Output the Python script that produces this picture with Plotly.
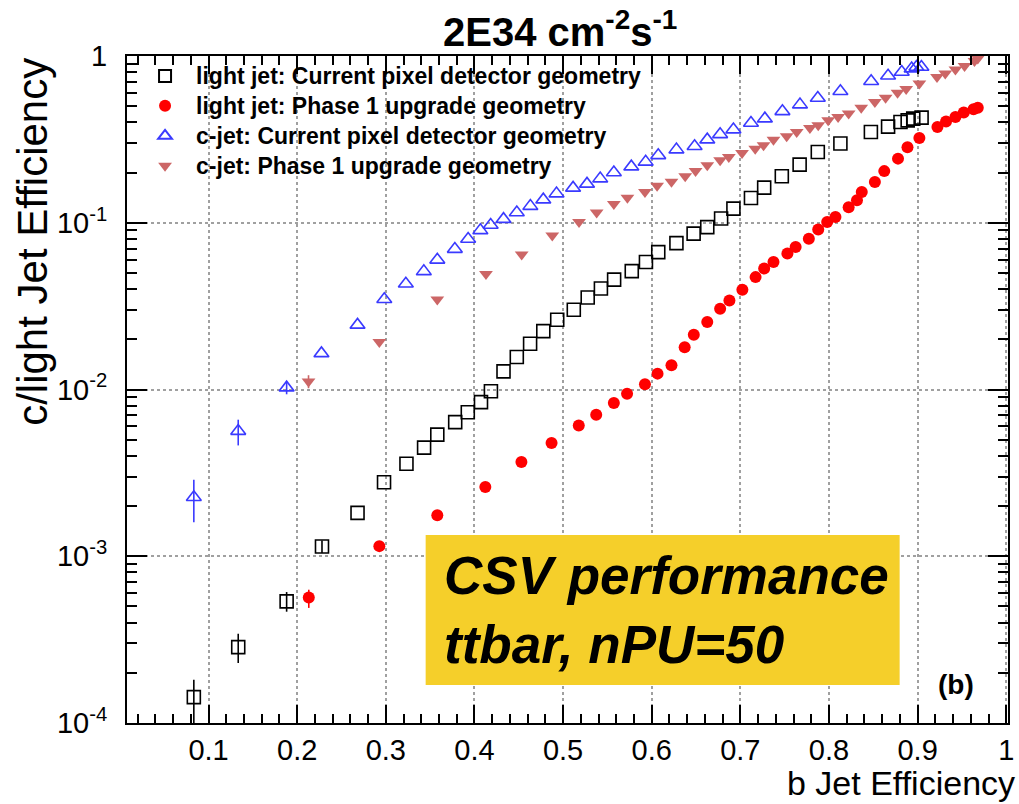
import plotly.graph_objects as go

# ---- data: mistag efficiency vs b-jet efficiency (CSV tagger, ttbar, nPU=50) ----

# light jets, current pixel detector geometry
b_light_cur = [0.0834, 0.1335, 0.1881, 0.2280, 0.2681, 0.2980, 0.3233, 0.3432, 0.3581, 0.3783,
               0.3925, 0.4074, 0.4186, 0.4328, 0.4478, 0.4628, 0.4777, 0.4934, 0.5121, 0.5278,
               0.5427, 0.5576, 0.5775, 0.5935, 0.6074, 0.6279, 0.6473, 0.6627, 0.6783, 0.6922,
               0.7120, 0.7269, 0.7468, 0.7669, 0.7874, 0.8129, 0.8473, 0.8667, 0.8807, 0.8888,
               0.8951, 0.9045]
eff_light_cur = [1.43e-4, 2.85e-4, 5.36e-4, 1.145e-3, 1.82e-3, 2.78e-3, 3.59e-3, 4.48e-3, 5.36e-3, 6.37e-3,
                 7.31e-3, 8.4e-3, 9.77e-3, 1.285e-2, 1.565e-2, 1.88e-2, 2.24e-2, 2.62e-2, 3.01e-2, 3.56e-2,
                 4.03e-2, 4.56e-2, 5.13e-2, 5.82e-2, 6.67e-2, 7.55e-2, 8.61e-2, 9.42e-2, 0.106, 0.1216,
                 0.1407, 0.1625, 0.190, 0.223, 0.2655, 0.2985, 0.350, 0.377, 0.402, 0.411,
                 0.421, 0.427]
err_up_light_cur = [0.39e-4, 0.58e-4, 0.74e-4, 0.10e-3]
err_dn_light_cur = [0.43e-4, 0.56e-4, 0.71e-4, 0.10e-3]

# light jets, Phase 1 upgrade geometry
b_light_ph1 = [0.2131, 0.2927, 0.3581, 0.4123, 0.4530, 0.4870, 0.5177, 0.5374, 0.5573, 0.5722,
               0.5924, 0.6066, 0.6223, 0.6372, 0.6475, 0.6627, 0.6772, 0.6877, 0.7023, 0.7172,
               0.7269, 0.7374, 0.7531, 0.7624, 0.7773, 0.7879, 0.7980, 0.8073, 0.8222, 0.8316,
               0.8370, 0.8518, 0.8624, 0.8779, 0.8886, 0.9020, 0.9224, 0.9321, 0.9427, 0.9521,
               0.9631, 0.9679]
eff_light_ph1 = [5.66e-4, 1.15e-3, 1.76e-3, 2.60e-3, 3.67e-3, 4.77e-3, 6.09e-3, 7.06e-3, 8.29e-3, 9.44e-3,
                 1.074e-2, 1.245e-2, 1.396e-2, 1.79e-2, 2.13e-2, 2.54e-2, 3.05e-2, 3.42e-2, 3.96e-2, 4.72e-2,
                 5.31e-2, 5.81e-2, 6.53e-2, 7.15e-2, 8.03e-2, 9.10e-2, 0.1009, 0.1082, 0.1237, 0.1363,
                 0.1528, 0.1754, 0.204, 0.2424, 0.2833, 0.3218, 0.375, 0.4046, 0.4306, 0.458,
                 0.480, 0.490]
err_up_light_ph1 = [0.64e-4, 0.08e-3]
err_dn_light_ph1 = [0.76e-4, 0.08e-3]

# c jets, current pixel detector geometry
b_c_cur = [0.0834, 0.1335, 0.1881, 0.2274, 0.2681, 0.2983, 0.3226, 0.3429, 0.3581, 0.3779,
           0.3929, 0.4067, 0.4183, 0.4328, 0.4478, 0.4631, 0.4777, 0.4926, 0.5113, 0.5270,
           0.5419, 0.5573, 0.5770, 0.5932, 0.6074, 0.6279, 0.6484, 0.6627, 0.6772, 0.6922,
           0.7120, 0.7277, 0.7475, 0.7673, 0.7874, 0.8129, 0.8476, 0.8667, 0.8821, 0.8933,
           0.8987, 0.9043]
eff_c_cur = [2.26e-3, 5.63e-3, 1.026e-2, 1.646e-2, 2.44e-2, 3.48e-2, 4.31e-2, 5.11e-2, 5.99e-2, 6.95e-2,
             7.99e-2, 9.0e-2, 9.69e-2, 0.1051, 0.1152, 0.1258, 0.1376, 0.1495, 0.1618, 0.171,
             0.1839, 0.200, 0.217, 0.2318, 0.2536, 0.2745, 0.2873, 0.315, 0.339, 0.362,
             0.3966, 0.421, 0.4658, 0.511, 0.560, 0.614, 0.705, 0.7606, 0.802, 0.840,
             0.859, 0.859]
err_up_c_cur = [0.62e-3, 0.96e-3, 0.9e-3]
err_dn_c_cur = [0.66e-3, 1.01e-3, 0.9e-3]

# c jets, Phase 1 upgrade geometry
b_c_ph1 = [0.2128, 0.2927, 0.3581, 0.4130, 0.4533, 0.4878, 0.5180, 0.5379, 0.5573, 0.5726,
           0.5924, 0.6061, 0.6223, 0.6378, 0.6495, 0.6627, 0.6772, 0.6870, 0.7019, 0.7168,
           0.7262, 0.7374, 0.7523, 0.7636, 0.7785, 0.7879, 0.7991, 0.8103, 0.8222, 0.8364,
           0.8518, 0.8639, 0.8774, 0.8871, 0.9020, 0.9219, 0.9312, 0.9427, 0.9530, 0.9642,
           0.9679]
eff_c_ph1 = [1.118e-2, 1.924e-2, 3.47e-2, 4.92e-2, 6.45e-2, 8.40e-2, 0.1010, 0.1151, 0.1295, 0.1414,
             0.1528, 0.1665, 0.1764, 0.1898, 0.2042, 0.2210, 0.2367, 0.2478, 0.2619, 0.2782,
             0.2912, 0.3150, 0.3297, 0.3500, 0.3699, 0.3840, 0.4114, 0.4306, 0.4513, 0.4891,
             0.5298, 0.5614, 0.6016, 0.6330, 0.6830, 0.748, 0.784, 0.830, 0.870, 0.932,
             0.965]
err_up_c_ph1 = [1.0e-3]
err_dn_c_ph1 = [1.0e-3]

y_tickvals = [1e-4, 1e-3, 1e-2, 1e-1, 1]
y_ticktext = ["10<sup>-4</sup>", "10<sup>-3</sup>", "10<sup>-2</sup>", "10<sup>-1</sup>", "1"]
x_tickvals = [0.1, 0.2, 0.3, 0.4, 0.5, 0.6, 0.7, 0.8, 0.9, 1.0]
x_ticktext = ["0.1", "0.2", "0.3", "0.4", "0.5", "0.6", "0.7", "0.8", "0.9", "1"]

series_names = [
    "light jet: Current pixel detector geometry",
    "light jet: Phase 1 upgrade geometry",
    "c-jet: Current pixel detector geometry",
    "c-jet: Phase 1 upgrade geometry",
]

# minor ticks of the log axis at 2..9 x 10^n
y_minor_vals = [k * 10.0 ** d for d in range(-4, 0) for k in range(2, 10)]


def padded(vals, n):
    return list(vals) + [0.0] * (n - len(vals))


FONT = "Liberation Sans, Arial, Helvetica, sans-serif"

fig = go.Figure()

styles = [
    dict(symbol="square-open", color="#000000", size=13, line=dict(width=1.6, color="#000000")),
    dict(symbol="circle", color="#ff0000", size=12, line=dict(width=0)),
    dict(symbol="triangle-up-open", color="#3a3aff", size=13, line=dict(width=1.6, color="#3a3aff")),
    dict(symbol="triangle-down", color="#cc6666", size=12, line=dict(width=0)),
]
series = [
    (b_light_cur, eff_light_cur, err_up_light_cur, err_dn_light_cur),
    (b_light_ph1, eff_light_ph1, err_up_light_ph1, err_dn_light_ph1),
    (b_c_cur, eff_c_cur, err_up_c_cur, err_dn_c_cur),
    (b_c_ph1, eff_c_ph1, err_up_c_ph1, err_dn_c_ph1),
]

for name, style, (xs, ys, eu, ed) in zip(series_names, styles, series):
    n = len(xs)
    fig.add_trace(go.Scatter(
        x=xs, y=ys, mode="markers",
        name=f'<span style="font-size:23px">{name}</span>',
        marker=dict(symbol=style["symbol"], color=style["color"], size=style["size"],
                    line=style["line"]),
        error_y=dict(type="data", symmetric=False, array=padded(eu, n), arrayminus=padded(ed, n),
                     color=style["color"], thickness=1.6, width=0),
    ))

grid = dict(showgrid=True, gridcolor="#a0a0a0", gridwidth=1.5, griddash="dot")

fig.update_layout(
    width=1019, height=804,
    margin=dict(l=127, r=5, t=56, b=81),
    paper_bgcolor="white", plot_bgcolor="white",
    font=dict(family=FONT, color="black"),
    showlegend=True,
    legend=dict(x=0.008, y=1.0, xanchor="left", yanchor="top",
                bgcolor="rgba(0,0,0,0)", borderwidth=0,
                font=dict(size=20.7, family=FONT, weight="bold"),
                tracegroupgap=0, itemsizing="constant", itemwidth=52),
    xaxis=dict(
        range=[0.008, 1.002], tickvals=x_tickvals, ticktext=x_ticktext,
        ticks="inside", ticklen=18, tickwidth=1.5, tickcolor="black",
        minor=dict(ticks="inside", ticklen=9, dtick=0.02, tickcolor="black", showgrid=False),
        showline=True, linecolor="black", linewidth=2, mirror="ticks",
        tickfont=dict(size=29, family=FONT), ticklabelstandoff=0,
        zeroline=False, **grid,
    ),
    yaxis=dict(
        type="log", range=[-4, 0], tickvals=y_tickvals, ticktext=y_ticktext,
        ticks="inside", ticklen=20, tickwidth=1.5, tickcolor="black",
        minor=dict(ticks="inside", ticklen=10, tickcolor="black", showgrid=False,
                   tickmode="array", tickvals=y_minor_vals),
        showline=True, linecolor="black", linewidth=2, mirror="ticks",
        tickfont=dict(size=29, family=FONT), ticklabelstandoff=12,
        zeroline=False, **grid,
    ),
)

# axis titles, right/top aligned
fig.add_annotation(text="b Jet Efficiency", xref="paper", yref="paper", x=1.01, y=-0.09,
                   xanchor="right", yanchor="middle", showarrow=False,
                   font=dict(size=34, family=FONT))
fig.add_annotation(text="c/light Jet Efficiency", xref="paper", yref="paper", x=-0.108, y=1.0,
                   xanchor="center", yanchor="top", textangle=-90, showarrow=False,
                   font=dict(size=42, family=FONT))

# title
fig.add_annotation(text="2E34 cm<sup>-2</sup>s<sup>-1</sup>", xref="paper", yref="paper",
                   x=0.491, y=1.041, xanchor="center", yanchor="middle", showarrow=False,
                   font=dict(size=40, family=FONT, weight="bold"))

# highlighted description box
fig.add_shape(type="rect", xref="paper", yref="paper", x0=0.339, x1=0.877, y0=0.057, y1=0.282,
              fillcolor="#f5cf2a", line=dict(width=0), layer="above")
fig.add_annotation(text="<b><i>CSV performance<br>ttbar, nPU=50</i></b>", xref="paper", yref="paper",
                   x=0.358, y=0.17, xanchor="left", yanchor="middle", align="left", showarrow=False,
                   font=dict(size=53, family=FONT, color="black"))

fig.add_annotation(text="<b>(b)</b>", xref="paper", yref="paper", x=0.941, y=0.057,
                   xanchor="center", yanchor="middle", showarrow=False,
                   font=dict(size=28, family=FONT))

fig.write_html("out.html")
